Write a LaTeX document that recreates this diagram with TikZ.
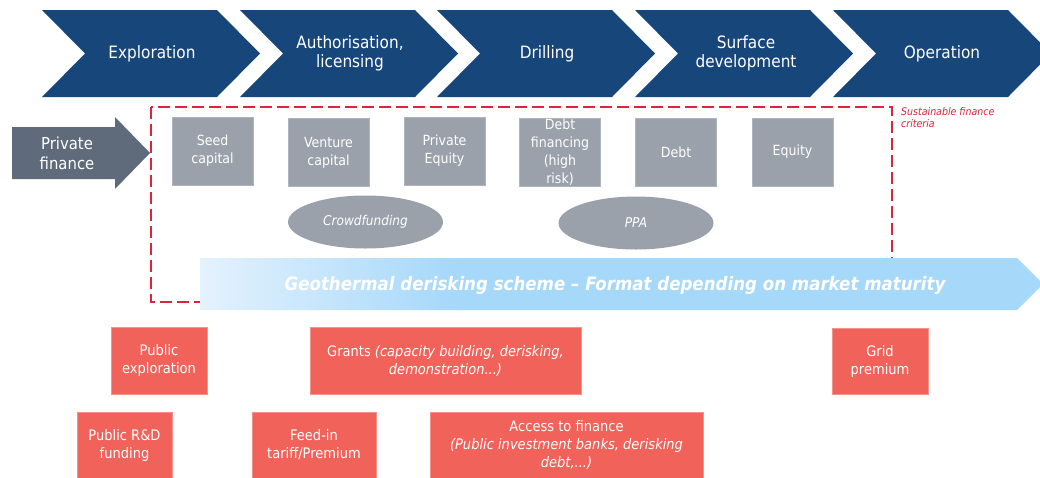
\documentclass[tikz,border=0pt]{standalone}
\usepackage{fontspec}
\setmainfont{DejaVu Sans}[FakeStretch=0.9]
\usetikzlibrary{shapes.geometric}
\definecolor{navy}{RGB}{23,70,122}
\definecolor{slate}{RGB}{95,107,123}
\definecolor{greybox}{RGB}{154,161,171}
\definecolor{salmon}{RGB}{240,98,90}
\definecolor{crimson}{RGB}{217,38,58}
\definecolor{lbA}{RGB}{228,242,253}
\definecolor{lbB}{RGB}{166,216,250}
\pgfdeclarehorizontalshading{geoshade}{100bp}{color(0bp)=(lbA); color(25bp)=(lbA); color(40bp)=(lbB); color(100bp)=(lbB)}
\tikzset{
  chevtext/.style={text=white, align=center, font=\fontsize{17}{19}\selectfont},
  greyrect/.style={fill=greybox, draw=greybox!80!white, line width=0.5pt, text=white, align=center, minimum width=81pt, minimum height=68pt, inner sep=1pt, font=\fontsize{14}{18}\selectfont},
  greyoval/.style={ellipse, fill=greybox, text=white, minimum width=155pt, minimum height=53pt, font=\fontsize{13.5}{16}\selectfont\itshape},
  redbox/.style={fill=salmon, draw=salmon!70!white, line width=0.6pt, text=white, align=center, inner sep=1pt, font=\fontsize{14.5}{18}\selectfont},
  dashedframe/.style={draw=crimson, line width=1.6pt, dash pattern=on 12pt off 5pt},
}
\newcommand{\chevshape}[1]{\fill[navy] (#1,10) -- ++(175,0) -- ++(43,43.5) -- ++(-43,43.5) -- ++(-175,0) -- ++(43,-43.5) -- cycle;}
\begin{document}
\begin{tikzpicture}[x=1pt,y=-1pt]
\useasboundingbox (0,0) rectangle (1040,477);
\clip (0,0) rectangle (1040,477);
% chevrons
\chevshape{42}
\chevshape{240}
\chevshape{437}
\chevshape{635}
\chevshape{833}
\node[chevtext] (c1) at (152,53.5) {Exploration};
\node[chevtext] (c2) at (350,53.5) {Authorisation,\\licensing};
\node[chevtext] (c3) at (547,53.5) {Drilling};
\node[chevtext] (c4) at (746,53.5) {Surface\\development};
\node[chevtext] (c5) at (942,53.5) {Operation};
% private finance arrow
\fill[slate] (12,127) -- (115,127) -- (115,117) -- (150,153) -- (115,189) -- (115,179) -- (12,179) -- cycle;
\node[text=white, align=center, font=\fontsize{16.5}{20}\selectfont] (pf) at (67,153) {Private\\finance};
% dashed frame
\draw[dashedframe] (151,107) rectangle (892,302);
\node[anchor=north west, text=crimson, align=left, inner sep=0pt, font=\fontsize{10.5}{12.5}\selectfont\itshape] (sfc) at (901,107) {Sustainable finance\\criteria};
% grey boxes
\node[greyrect] (seed) at (212.5,151) {Seed\\capital};
\node[greyrect] (vc) at (328.5,152.5) {Venture\\capital};
\node[greyrect] (pe) at (444.5,151) {Private\\Equity};
\node[greyrect] (dfin) at (560,152.5) {Debt\\financing\\(high\\risk)};
\node[greyrect] (debt) at (676,152.5) {Debt};
\node[greyrect] (eq) at (792.5,152) {Equity};
\node[greyoval] (crowd) at (365.5,222) {Crowdfunding};
\node[greyoval] (ppa) at (636,223) {PPA};
% blue derisking arrow
\path[shading=geoshade] (200,258) -- (1017,258) -- (1043,284) -- (1017,310) -- (200,310) -- cycle;
\node[text=white, font=\fontsize{18.5}{22}\selectfont\bfseries\itshape] (geo) at (615,285) {Geothermal derisking scheme – Format depending on market maturity};
% red boxes
\node[redbox, minimum width=96pt, minimum height=67pt] (pubexp) at (159,360.5) {Public\\exploration};
\node[redbox, minimum width=271pt, minimum height=67pt] (grants) at (445.5,360.5) {Grants \textit{(capacity building, derisking,}\\\textit{demonstration...)}};
\node[redbox, minimum width=96pt, minimum height=66pt] (grid) at (880,361) {Grid\\premium};
\node[redbox, minimum width=95pt, minimum height=66pt] (rnd) at (124.5,445) {Public R\&D\\funding};
\node[redbox, minimum width=124pt, minimum height=66pt] (feed) at (314,445) {Feed-in\\tariff/Premium};
\node[redbox, minimum width=273pt, minimum height=66pt] (access) at (566.5,445) {Access to finance\\\textit{(Public investment banks, derisking}\\\textit{debt,...)}};
\end{tikzpicture}
\end{document}
